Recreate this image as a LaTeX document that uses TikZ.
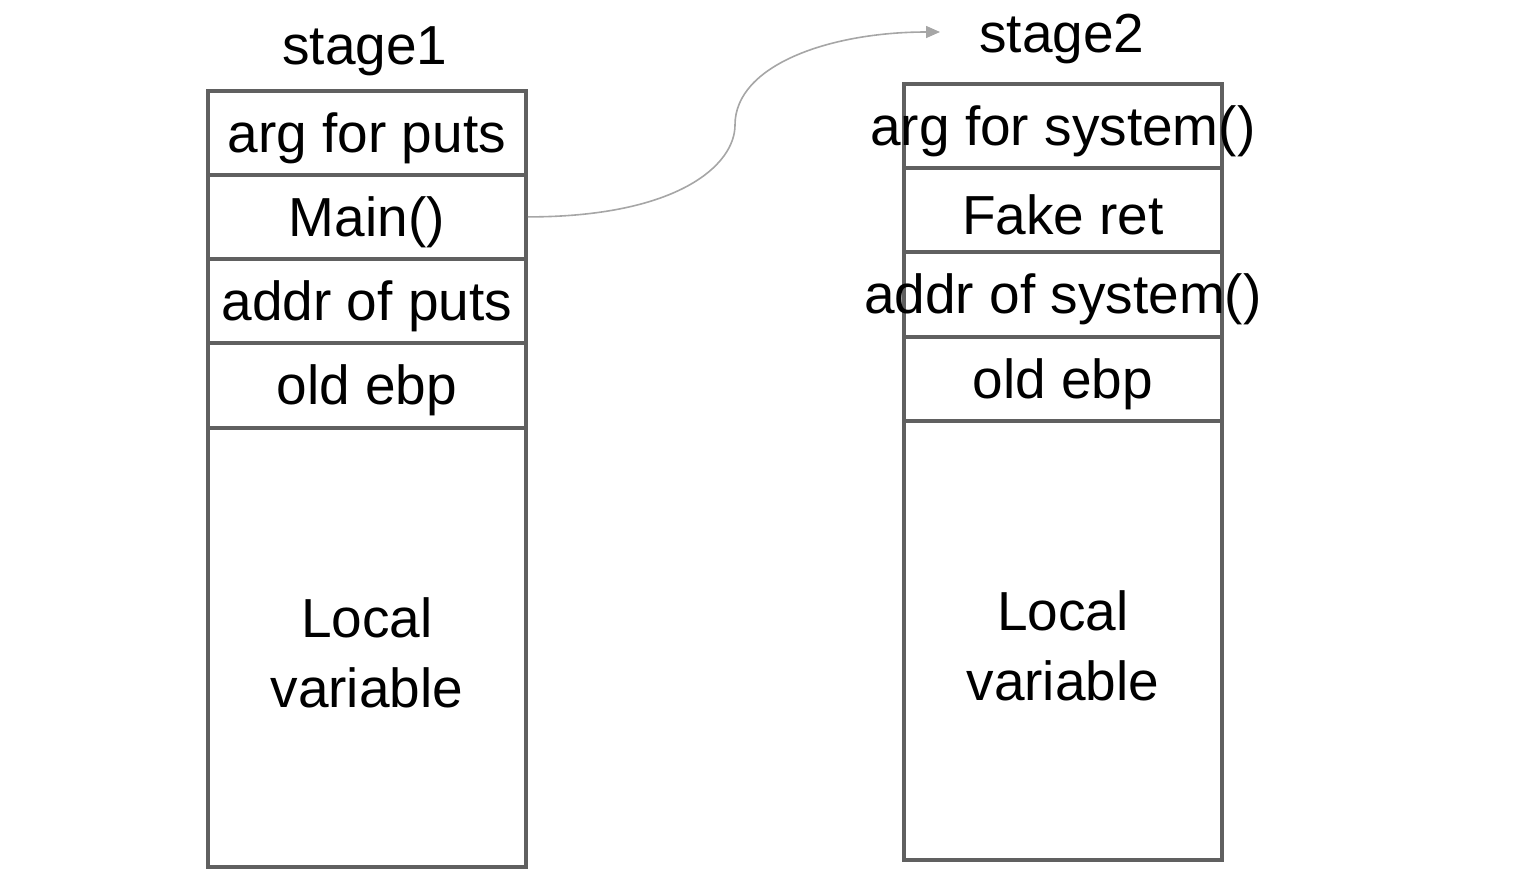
\documentclass[tikz,border=0pt]{standalone}
\usepackage{fontspec}
\setmainfont{Liberation Sans}
\usetikzlibrary{arrows.meta}
\definecolor{boxgray}{HTML}{606060}
\definecolor{arrgray}{HTML}{A6A6A6}
\begin{document}
\begin{tikzpicture}[x=0.5pt,y=-0.5pt,
  cell/.style={draw=boxgray, line width=1.9pt, minimum width=159pt, inner sep=0pt, anchor=north west},
  lbl/.style={font=\fontsize{27.5}{35}\selectfont, inner sep=0pt, align=center, yshift=-2.5pt},
  ttl/.style={font=\fontsize{27.5}{35}\selectfont, inner sep=0pt}]
\useasboundingbox (0,0) rectangle (1528,894);
% stage 1
\node[cell, minimum height=42pt] (a1) at (206,89) {};
\node[cell, minimum height=42pt] (a2) at (206,173) {};
\node[cell, minimum height=42pt] (a3) at (206,257) {};
\node[cell, minimum height=42.5pt] (a4) at (206,341) {};
\node[cell, minimum height=219.5pt] (a5) at (206,426) {};
\node[ttl] (t1) at (365,51) {stage1};
\node[lbl] (l1) at (a1.center) {arg for puts};
\node[lbl] (l2) at (a2.center) {Main()};
\node[lbl] (l3) at (a3.center) {addr of puts};
\node[lbl] (l4) at (a4.center) {old ebp};
\node[lbl] (l5) at (a5.center) {Local\\variable};
% stage 2
\node[cell, minimum height=42pt] (b1) at (902,82) {};
\node[cell, minimum height=42pt] (b2) at (902,166) {};
\node[cell, minimum height=42.5pt] (b3) at (902,250) {};
\node[cell, minimum height=42pt] (b4) at (902,335) {};
\node[cell, minimum height=219.5pt] (b5) at (902,419) {};
\node[ttl] (t2) at (1062,39) {stage2};
\node[lbl] (m1) at (b1.center) {arg for system()};
\node[lbl] (m2) at (b2.center) {Fake ret};
\node[lbl] (m3) at (b3.center) {addr of system()};
\node[lbl] (m4) at (b4.center) {old ebp};
\node[lbl] (m5) at (b5.center) {Local\\variable};
% arrow
\coordinate (mid) at (735,125);
\coordinate (tip) at (940,32);
\draw[arrgray, line width=0.8pt, -{Triangle[length=7pt,width=6pt]}]
  (a2.east) .. controls ++(150,0) and (735,165) .. (mid)
  .. controls (735,65) and (830,32) .. (tip);
\end{tikzpicture}
\end{document}
